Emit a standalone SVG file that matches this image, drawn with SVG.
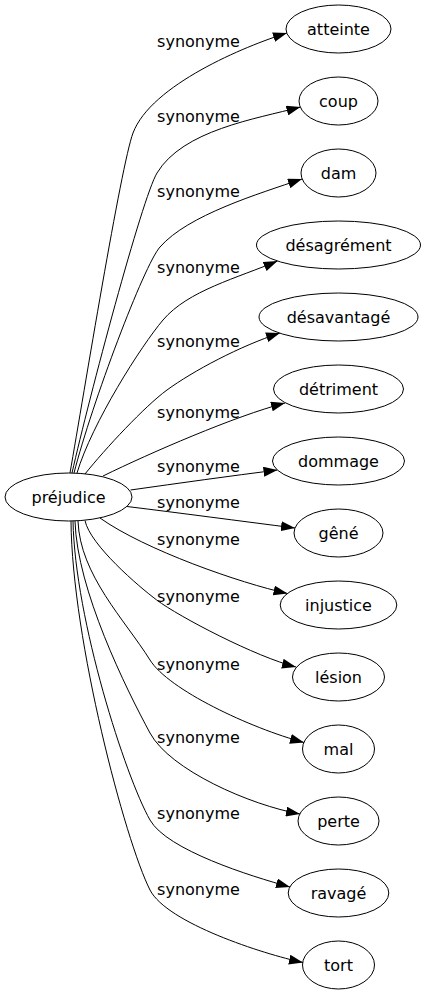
<svg xmlns="http://www.w3.org/2000/svg" width="426" height="995" viewBox="0 0 426 995">
<defs>
<style>
.n ellipse{fill:#fff;stroke:#000;stroke-width:1}
.n text{font-family:"DejaVu Sans",sans-serif;font-size:16px;text-anchor:middle;fill:#000}
.e path{fill:none;stroke:#000;stroke-width:1;marker-end:url(#a)}
.l text{font-family:"DejaVu Sans",sans-serif;font-size:16px;text-anchor:middle;fill:#000}
</style>
<marker id="a" markerUnits="userSpaceOnUse" markerWidth="14" markerHeight="10" viewBox="0 0 13.3 9.4" refX="13.3" refY="4.7" orient="auto">
<path d="M0,0 L13.3,4.7 L0,9.4 z" fill="#000"/>
</marker>
</defs>
<rect width="426" height="995" fill="#fff"/>
<g id="edges" class="e">
<path d="M70,473 C84,393 121,165 133,133 C151,85 245,46 287,33"/>
<path d="M72,473 C89,398 142,198 157,173 C183,130 255.5,119 300.5,107"/>
<path d="M74,473 C92,403 144,265 160,247 C188,215 258,194 302,179"/>
<path d="M77,473 C92,423 141,346 163,320 C188,290.5 237.5,278 277.5,261"/>
<path d="M85,474 C105,449 145,406 167,390 C193,371 240,346 280,333"/>
<path d="M103,476 C150,453 235,416 285,403"/>
<path d="M130.5,490 C180,483 230,476 277.5,470"/>
<path d="M127,506.5 C180,513 240,521 295,528"/>
<path d="M100,518 C145,550 240,583 287.5,593.5"/>
<path d="M85,520.5 C90,545 139.1,586.8 156.7,600 C179.1,616.8 256,657 296,667"/>
<path d="M78,521 C80,575 125,620 150,660 C168.5,689.7 250,728 304,742.5"/>
<path d="M75,521 C77,590 126.25,689 150,733 C170,770 250,805 300,814"/>
<path d="M73,521 C75,620 125.4,776.5 150,820 C167,850 250,876 290,887"/>
<path d="M71,521 C72,640 125.25,841 150,890 C167,923 263,954 303,962.5"/>
</g>
<g id="labels" class="l">
<text x="198.5" y="46.7">synonyme</text>
<text x="198.5" y="121.7">synonyme</text>
<text x="198.5" y="196.7">synonyme</text>
<text x="198.5" y="273">synonyme</text>
<text x="198.5" y="346.7">synonyme</text>
<text x="198.5" y="418">synonyme</text>
<text x="198.5" y="471.7">synonyme</text>
<text x="198.5" y="508.3">synonyme</text>
<text x="198.5" y="545">synonyme</text>
<text x="198.5" y="601.7">synonyme</text>
<text x="198.5" y="670">synonyme</text>
<text x="198.5" y="743">synonyme</text>
<text x="198.5" y="819">synonyme</text>
<text x="198.5" y="895">synonyme</text>
</g>
<g id="prejudice" class="n"><ellipse cx="68.5" cy="497" rx="63.5" ry="24"/><text x="68.5" y="502.5">préjudice</text></g>
<g id="atteinte" class="n"><ellipse cx="338.5" cy="29" rx="52.5" ry="24"/><text x="338.5" y="34.5">atteinte</text></g>
<g id="coup" class="n"><ellipse cx="338.5" cy="101" rx="39.5" ry="24"/><text x="338.5" y="106.5">coup</text></g>
<g id="dam" class="n"><ellipse cx="338.5" cy="173" rx="37.5" ry="24"/><text x="338.5" y="178.5">dam</text></g>
<g id="desagrement" class="n"><ellipse cx="338.5" cy="245" rx="82" ry="24"/><text x="338.5" y="250.5">désagrément</text></g>
<g id="desavantage" class="n"><ellipse cx="338.5" cy="317" rx="79.5" ry="24"/><text x="338.5" y="322.5">désavantagé</text></g>
<g id="detriment" class="n"><ellipse cx="338.5" cy="389" rx="65" ry="24"/><text x="338.5" y="394.5">détriment</text></g>
<g id="dommage" class="n"><ellipse cx="338.5" cy="461" rx="66" ry="24"/><text x="338.5" y="466.5">dommage</text></g>
<g id="gene" class="n"><ellipse cx="338.5" cy="533" rx="44.5" ry="24"/><text x="338.5" y="538.5">gêné</text></g>
<g id="injustice" class="n"><ellipse cx="338.5" cy="605" rx="58.3" ry="24"/><text x="338.5" y="610.5">injustice</text></g>
<g id="lesion" class="n"><ellipse cx="338.5" cy="677" rx="46" ry="24"/><text x="338.5" y="682.5">lésion</text></g>
<g id="mal" class="n"><ellipse cx="338.5" cy="749" rx="36" ry="24"/><text x="338.5" y="754.5">mal</text></g>
<g id="perte" class="n"><ellipse cx="338.5" cy="821" rx="40.5" ry="24"/><text x="338.5" y="826.5">perte</text></g>
<g id="ravage" class="n"><ellipse cx="338.5" cy="893" rx="50.3" ry="24"/><text x="338.5" y="898.5">ravagé</text></g>
<g id="tort" class="n"><ellipse cx="338.5" cy="965" rx="36" ry="24"/><text x="338.5" y="970.5">tort</text></g>
</svg>
